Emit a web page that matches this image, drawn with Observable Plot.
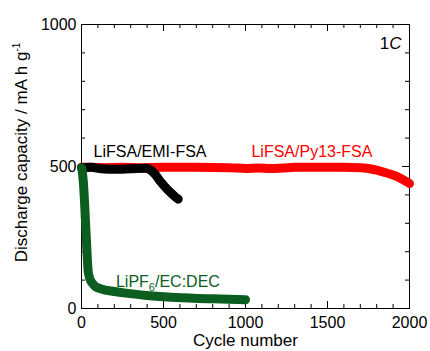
<!DOCTYPE html>
<html><head><meta charset="utf-8">
<script src="https://cdn.jsdelivr.net/npm/d3@7"></script>
<script src="https://cdn.jsdelivr.net/npm/@observablehq/plot@0.6"></script>
<style>body{margin:0;background:#fff}</style>
</head><body><div id="chart"></div>
<script>
// LiFSA/Py13-FSA (red)
const py13Cycles   = [0, 50, 150, 250, 350, 500, 700, 900, 1000, 1080, 1150, 1230, 1300, 1450, 1600, 1700, 1750, 1800, 1850, 1900, 1950, 2000];
const py13Capacity = [497, 497, 496, 497, 496, 497, 497, 496, 493, 495, 493, 495, 497, 497, 497, 496, 493, 487, 479, 470, 457, 440];
// LiFSA/EMI-FSA (black)
const emiCycles   = [0, 60, 120, 200, 300, 390, 420, 450, 480, 510, 540, 570, 590];
const emiCapacity = [496, 497, 492, 490, 492, 494, 488, 472, 448, 428, 410, 394, 385];
// LiPF6/EC:DEC (green)
const ecCycles   = [0, 3, 8, 12, 18, 24, 30, 36, 40, 48, 55, 70, 85, 120, 200, 270, 400, 575, 800, 1000];
const ecCapacity = [495, 490, 465, 440, 380, 310, 240, 170, 135, 110, 99, 86, 77, 69, 60, 54, 46, 39, 34, 31];

const xMajorTicks = [0, 500, 1000, 1500, 2000];
const xMinorTicks = d3.range(100, 2000, 100).filter(v => v % 500 !== 0);
const yMajorTicks = [0, 500, 1000];
const yMinorTicks = d3.range(100, 1000, 100).filter(v => v % 500 !== 0);

const toRows = (cs, vs) => cs.map((c, i) => ({cycle: c, capacity: vs[i]}));
const py13 = toRows(py13Cycles, py13Capacity);
const emi = toRows(emiCycles, emiCapacity);
const ec = toRows(ecCycles, ecCapacity);

const W = 430, H = 351, mL = 81, mR = 21, mT = 24, mB = 43;
const innerW = W - mL - mR, innerH = H - mT - mB;
const majorLen = 7, minorLen = 4;

const lineOpts = {x: "cycle", y: "capacity", strokeWidth: 9, strokeLinecap: "round", strokeLinejoin: "round", curve: "monotone-x"};

const chart = Plot.plot({
  width: W, height: H,
  marginLeft: mL, marginRight: mR, marginTop: mT, marginBottom: mB,
  style: {fontFamily: "'Liberation Sans', Arial, sans-serif", fontSize: "16px", background: "#fff", color: "#000", overflow: "visible"},
  x: {domain: [0, 2000]},
  y: {domain: [0, 1000]},
  marks: [
    Plot.frame({stroke: "#000", strokeWidth: 1}),
    // inward ticks
    Plot.tickX(xMajorTicks, {x: d => d, insetTop: innerH - majorLen, stroke: "#000"}),
    Plot.tickX(xMinorTicks, {x: d => d, insetTop: innerH - minorLen, stroke: "#000"}),
    Plot.tickX(xMajorTicks, {x: d => d, insetBottom: innerH - majorLen, stroke: "#000"}),
    Plot.tickX(xMinorTicks, {x: d => d, insetBottom: innerH - minorLen, stroke: "#000"}),
    Plot.tickY(yMajorTicks, {y: d => d, insetRight: innerW - majorLen, stroke: "#000"}),
    Plot.tickY(yMinorTicks, {y: d => d, insetRight: innerW - minorLen, stroke: "#000"}),
    Plot.tickY(yMajorTicks, {y: d => d, insetLeft: innerW - majorLen, stroke: "#000"}),
    Plot.tickY(yMinorTicks, {y: d => d, insetLeft: innerW - minorLen, stroke: "#000"}),
    Plot.axisX(xMajorTicks, {anchor: "bottom", tickSize: 0, tickPadding: 8, fontSize: 16, tickFormat: d => String(d), label: null}),
    Plot.axisY(yMajorTicks, {anchor: "left", tickSize: 0, tickPadding: 5, fontSize: 16, tickFormat: d => String(d), label: null}),
    // series
    Plot.line(py13, {...lineOpts, stroke: "#ff0000"}),
    Plot.line(emi, {...lineOpts, stroke: "#000000"}),
    Plot.line(ec, {...lineOpts, stroke: "#0b5e1f"}),
    // labels
    Plot.text(["LiFSA/EMI-FSA"], {text: d => d, x: 418, y: 532, textAnchor: "middle", lineAnchor: "bottom", fill: "#000", fontSize: 16}),
    Plot.text(["LiFSA/Py13-FSA"], {text: d => d, x: 1405, y: 535, textAnchor: "middle", lineAnchor: "bottom", fill: "#ff0000", fontSize: 16}),
    Plot.text(["LiPF6/EC:DEC"], {text: d => d, x: 527, y: 77, textAnchor: "middle", lineAnchor: "bottom", fill: "#0b5e1f", fontSize: 16}),
    Plot.text(["1C"], {text: d => d, x: 1951, y: 912, textAnchor: "end", lineAnchor: "bottom", fill: "#000", fontSize: 17}),
    // axis titles
    Plot.text(["Cycle number"], {text: d => d, frameAnchor: "bottom", lineAnchor: "bottom", dy: 37, fontSize: 17, fill: "#000"}),
    Plot.text(["Discharge capacity / mA h g-1"], {text: d => d, frameAnchor: "left", rotate: -90, lineAnchor: "bottom", textAnchor: "middle", dx: -55, dy: -14, fontSize: 17, fill: "#000"})
  ]
});

// rich text: sub/superscripts and italics
const svg = d3.select(chart);
svg.selectAll("text").each(function() {
  const t = this.textContent;
  const sel = d3.select(this);
  if (t === "LiPF6/EC:DEC") {
    sel.text("");
    sel.append("tspan").text("LiPF");
    sel.append("tspan").attr("dy", 4).attr("font-size", 11).text("6");
    sel.append("tspan").attr("dy", -4).text("/EC:DEC");
  } else if (t === "1C") {
    sel.text("");
    sel.append("tspan").text("1");
    sel.append("tspan").attr("font-style", "italic").text("C");
  } else if (t === "Discharge capacity / mA h g-1") {
    sel.text("");
    sel.append("tspan").text("Discharge capacity / mA h g");
    sel.append("tspan").attr("dy", -7).attr("font-size", 10).text("-1");
  }
});

document.getElementById("chart").appendChild(chart);
</script>
</body></html>
